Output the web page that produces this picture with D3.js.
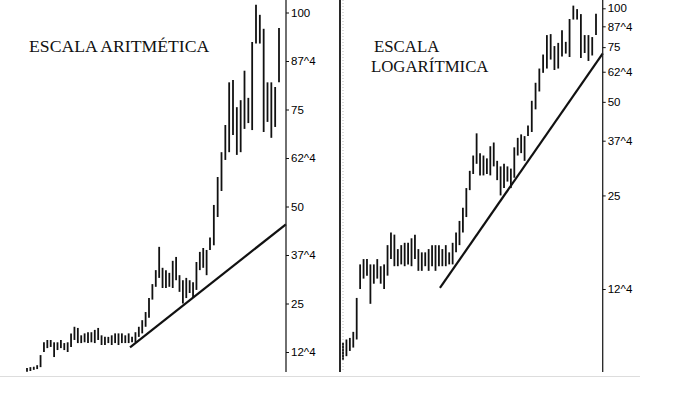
<!DOCTYPE html>
<html>
<head>
<meta charset="utf-8">
<script src="https://cdn.jsdelivr.net/npm/d3@7"></script>
<style>
  body { margin: 0; background: #fff; }
  .title { font-family: "Liberation Serif", "Times New Roman", serif; fill: #111; }
  .axis text { font-family: "Liberation Sans", Arial, sans-serif; font-size: 11.5px; fill: #000; }
  .axis line { stroke: #111; }
</style>
</head>
<body>
<div id="chart"></div>
<script>
// same price series drawn twice, one arithmetic, one log
var highs = [8.4, 8.6, 8.7, 9.1, 11.7, 15, 15.6, 15.6, 15, 15,
  15.6, 14.8, 15, 17.3, 19, 18.7, 16.8, 17.3, 17.6, 17.6,
  18.2, 18.7, 16.8, 16.4, 16.4, 16.8, 17.3, 17.3, 17.3, 16.8,
  17.3, 16.4, 17.6, 19, 20.7, 22.8, 26.4, 30, 33.6, 39.6,
  34.2, 33.6, 32.9, 36, 37, 32.3, 31, 31.6, 31, 30.5,
  35.7, 38.3, 39.3, 38.8, 42, 50.4, 57.6, 64, 71, 82,
  82.6, 75.6, 77.4, 85, 78, 92.4, 102, 99.4, 95.8, 82,
  82, 80.8, 96];
var lows = [7.4, 7.6, 7.9, 8.1, 8.6, 12.5, 13.5, 13.8, 11.2, 13,
  13.5, 13, 12.5, 13.8, 15.6, 14.8, 14.8, 15, 14.8, 15,
  14.8, 15.6, 14.3, 14.3, 14.8, 14.3, 14.8, 14.3, 14.8, 14.8,
  14.8, 15, 15, 16.4, 17.3, 19, 21.3, 26, 29.3, 31.6,
  29, 29, 29.3, 29, 31, 28, 25, 26.4, 27.7, 26.4,
  28.5, 33.6, 34.2, 32.3, 38.8, 40, 47.3, 54, 62, 64,
  68.4, 63.3, 64, 70, 71.5, 69.7, 92, 92, 69.2, 71.8,
  67.7, 70.5, 82];

var tickValues = [100, 87.5, 75, 62.5, 50, 37.5, 25, 12.5];
var tickLabels = ['100', '87^4', '75', '62^4', '50', '37^4', '25', '12^4'];

// trend lines: bar index and price at each end
var trendArithIdx = [30.4, 73.8];
var trendArithVal = [13.7, 45.4];
var trendLogIdx = [28.3, 73.8];
var trendLogVal = [12.6, 71.6];

var width = 674;
var height = 404;
var svg = d3.select('#chart')
  .append('svg')
  .attr('width', width)
  .attr('height', height);

var bars = highs.map(function(h, i) { return { i: i, high: h, low: lows[i] }; });
var fmt = function(d) { return tickLabels[tickValues.indexOf(d)]; };

// Scales (bars get a bit wider apart in the last stretch of the original)
var xArith = d3.scaleLinear().domain([0, 54, 72]).range([27, 210, 279]);
var yArith = d3.scaleLinear().domain([0, 100]).range([400.5, 12.5]);
var xLog = d3.scaleLinear().domain([0, 54, 72]).range([343, 528, 596]);
var yLog = d3.scaleLog().domain([12.5, 100]).range([289, 8.3]);

var drawPanel = function(x, y, axisX, tIdx, tVal) {
  var g = svg.append('g');
  g.selectAll('line.bar')
    .data(bars)
    .enter()
    .append('line')
    .attr('class', 'bar')
    .attr('x1', function(d) { return x(d.i); })
    .attr('x2', function(d) { return x(d.i); })
    .attr('y1', function(d) { return y(d.high); })
    .attr('y2', function(d) { return y(d.low); })
    .attr('stroke', '#111')
    .attr('stroke-width', 1.8);

  g.append('line')
    .attr('x1', x(tIdx[0])).attr('y1', y(tVal[0]))
    .attr('x2', x(tIdx[1])).attr('y2', y(tVal[1]))
    .attr('stroke', '#111')
    .attr('stroke-width', 2.2);

  // axis line runs full height, ticks to the right
  g.append('line')
    .attr('x1', axisX).attr('x2', axisX)
    .attr('y1', 0).attr('y2', 372)
    .attr('stroke', '#222')
    .attr('stroke-width', 1.3);
  var axis = g.append('g')
    .attr('class', 'axis')
    .attr('transform', 'translate(' + axisX + ',0)')
    .call(d3.axisRight(y)
      .tickValues(tickValues)
      .tickFormat(fmt)
      .tickSize(3)
      .tickPadding(2)
      .tickSizeOuter(0));
  axis.select('.domain').remove();
};

drawPanel(xArith, yArith, 286, trendArithIdx, trendArithVal);
drawPanel(xLog, yLog, 602.7, trendLogIdx, trendLogVal);

// panel divider
svg.append('line')
  .attr('x1', 340).attr('x2', 340).attr('y1', 0).attr('y2', 372)
  .attr('stroke', '#111').attr('stroke-width', 1.8);
svg.append('line')
  .attr('x1', 343).attr('x2', 343).attr('y1', 0).attr('y2', 372)
  .attr('stroke', '#aaa').attr('stroke-width', 0.8)
  .attr('stroke-dasharray', '1,2');

// bottom edge of the scan
svg.append('line')
  .attr('x1', 0).attr('x2', 640).attr('y1', 376.5).attr('y2', 376.5)
  .attr('stroke', '#ddd').attr('stroke-width', 1);

// Titles
svg.append('text').attr('class', 'title')
  .attr('x', 29).attr('y', 52)
  .style('font-size', '17.7px')
  .text('ESCALA ARITMÉTICA');
svg.append('text').attr('class', 'title')
  .attr('x', 374).attr('y', 52)
  .style('font-size', '16.8px')
  .text('ESCALA');
svg.append('text').attr('class', 'title')
  .attr('x', 371).attr('y', 72.3)
  .style('font-size', '16.8px')
  .text('LOGARÍTMICA');
</script>
</body>
</html>
